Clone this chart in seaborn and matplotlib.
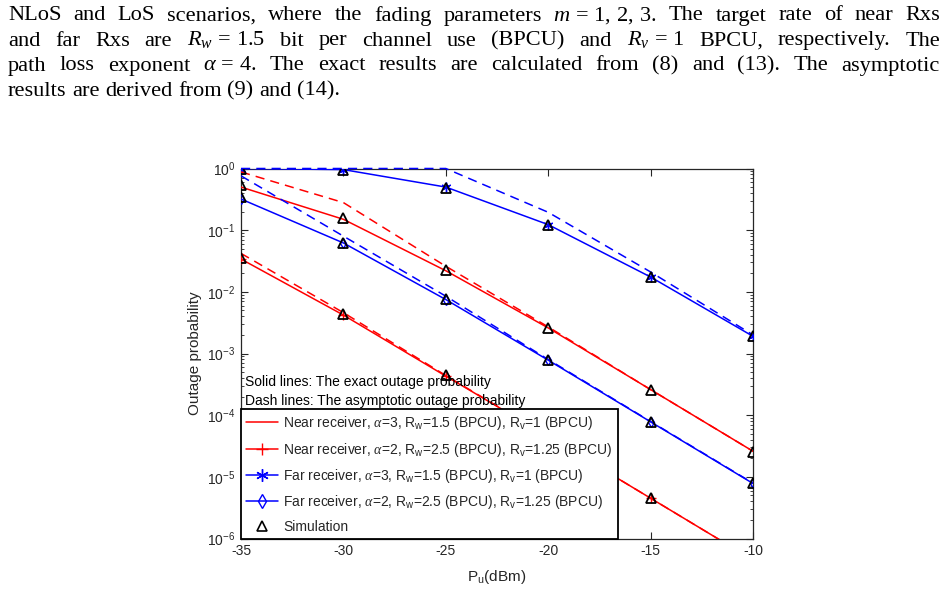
import numpy as np
import pandas as pd
import matplotlib
matplotlib.use("Agg")
import matplotlib.pyplot as plt
from matplotlib.lines import Line2D
from matplotlib.ticker import LogLocator, NullFormatter, FixedLocator
import seaborn as sns

# ---------------- data ----------------
p_u = [-35, -30, -25, -20, -15, -10]

near_a3_exact = [0.50, 0.15, 0.022, 0.0026, 2.6e-4, 2.6e-5]
near_a3_asym = [0.88, 0.28, 0.026, 0.0027, 2.6e-4, 2.6e-5]
near_a2_exact = [0.034, 0.0042, 4.3e-4, 4.5e-5, 4.5e-6, 4.5e-7]
near_a2_asym = [0.042, 0.0046, 4.4e-4, 4.5e-5, 4.5e-6, 4.5e-7]
far_a3_exact = [1.0, 0.96, 0.50, 0.123, 0.0174, 0.0019]
far_a3_asym = [1.0, 1.0, 1.0, 0.195, 0.021, 0.002]
far_a2_exact = [0.32, 0.062, 0.0075, 7.8e-4, 7.8e-5, 7.8e-6]
far_a2_asym = [0.76, 0.08, 0.0085, 8.0e-4, 7.9e-5, 7.9e-6]

sim_near_a3 = [0.55, 0.155, 0.023, 0.0026, 2.6e-4, 2.5e-5]
sim_near_a2 = [0.036, 0.0043, 4.4e-4, 4.5e-5, 4.6e-6, 4.5e-7]
sim_far_a3 = [1.0, 0.95, 0.49, 0.12, 0.0172, 0.0019]
sim_far_a2 = [0.35, 0.063, 0.0077, 7.8e-4, 7.8e-5, 7.9e-6]

x_ticks = [-35, -30, -25, -20, -15, -10]

legend_labels = [
    r"Near receiver, $\alpha$=3, R$_\mathsf{w}$=1.5 (BPCU), R$_\mathsf{v}$=1 (BPCU)",
    r"Near receiver, $\alpha$=2, R$_\mathsf{w}$=2.5 (BPCU), R$_\mathsf{v}$=1.25 (BPCU)",
    r"Far receiver, $\alpha$=3, R$_\mathsf{w}$=1.5 (BPCU), R$_\mathsf{v}$=1 (BPCU)",
    r"Far receiver, $\alpha$=2, R$_\mathsf{w}$=2.5 (BPCU), R$_\mathsf{v}$=1.25 (BPCU)",
    "Simulation",
]

caption_lines = [
    ["NLoS", "and", "LoS", "scenarios,", "where", "the", "fading", "parameters",
     r"$m\,=\,1,\,2,\,3$.", "The", "target", "rate", "of", "near", "Rxs"],
    ["and", "far", "Rxs", "are", r"$R_w\,=\,1.5$", "bit", "per", "channel", "use",
     "(BPCU)", "and", r"$R_v\,=\,1$", "BPCU,", "respectively.", "The"],
    ["path", "loss", "exponent", r"$\alpha\,=\,4$.", "The", "exact", "results", "are",
     "calculated", "from", "(8)", "and", "(13).", "The", "asymptotic"],
    ["results", "are", "derived", "from", "(9)", "and", "(14)."],
]

# ---------------- style ----------------
sns.set_style("ticks")
plt.rcParams["font.family"] = ["Liberation Sans", "DejaVu Sans"]
plt.rcParams["mathtext.fontset"] = "custom"
plt.rcParams["mathtext.rm"] = "Liberation Serif"
plt.rcParams["mathtext.it"] = "Liberation Serif:italic"
plt.rcParams["mathtext.bf"] = "Liberation Serif:bold"
plt.rcParams["mathtext.sf"] = "Liberation Sans"
plt.rcParams["axes.unicode_minus"] = False

W, H = 948, 594
fig = plt.figure(figsize=(W / 100, H / 100), dpi=100)
fig.patch.set_facecolor("white")

ax_l, ax_r, ax_t, ax_b = 241, 753, 168.5, 538.5
ax = fig.add_axes([ax_l / W, 1 - ax_b / H, (ax_r - ax_l) / W, (ax_b - ax_t) / H])
ax.set_yscale("log")

RED = (1, 0, 0)
BLUE = (0, 0, 1)
LW = 1.1
DASH = (0, (6, 4))
ASTER = (6, 2, 0)

def curve(y, color, ls, marker=None, ms=6, clip=True):
    kw = dict(x=p_u, y=y, color=color, linewidth=LW, linestyle=ls, ax=ax,
              estimator=None, sort=False, legend=False, zorder=3, clip_on=clip)
    if marker is not None:
        kw.update(marker=marker, markersize=ms, markerfacecolor="none",
                  markeredgecolor=color, markeredgewidth=1.0)
    sns.lineplot(**kw)

# exact (solid)
curve(near_a3_exact, RED, "-")
curve(near_a2_exact, RED, "-", "+", 7)
curve(far_a3_exact, BLUE, "-", ASTER, 7)
curve(far_a2_exact, BLUE, "-", "d", 5)
# asymptotic (dashed)
curve(near_a3_asym, RED, DASH)
curve(near_a2_asym, RED, DASH)
curve(far_a3_asym, BLUE, DASH, clip=False)
curve(far_a2_asym, BLUE, DASH)

# simulation triangles
for sim in (sim_near_a3, sim_near_a2, sim_far_a3, sim_far_a2):
    sns.lineplot(x=p_u, y=sim, ax=ax, estimator=None, sort=False, legend=False,
                 linestyle="none", marker="^", markersize=7.5,
                 markerfacecolor="none", markeredgecolor="black",
                 markeredgewidth=1.3, color="black", zorder=4)

ax.set_xlim(-35, -10)
ax.set_ylim(1e-6, 1)
ax.xaxis.set_major_locator(FixedLocator(x_ticks))
ax.yaxis.set_major_locator(LogLocator(base=10, numticks=10))
ax.yaxis.set_minor_locator(LogLocator(base=10, subs=np.arange(2, 10), numticks=10))
ax.yaxis.set_minor_formatter(NullFormatter())

GRAY = (0.15, 0.15, 0.15)
for s in ax.spines.values():
    s.set_color(GRAY)
    s.set_linewidth(0.9)
ax.tick_params(which="both", direction="in", top=True, right=True,
               colors=GRAY, labelcolor=GRAY, labelsize=10)
ax.tick_params(which="major", length=5, width=0.8, pad=4)
ax.tick_params(which="minor", length=2.5, width=0.6)

ax.set_xlabel(r"P$_\mathsf{u}$(dBm)", fontsize=11, color=GRAY, labelpad=7)
ax.set_ylabel("Outage probability", fontsize=11, color=GRAY, labelpad=4)

ax.text(0.008, 0.423, "Solid lines: The exact outage probability",
        transform=ax.transAxes, fontsize=10, va="center", ha="left", color="black")
ax.text(0.008, 0.372, "Dash lines: The asymptotic outage probability",
        transform=ax.transAxes, fontsize=10, va="center", ha="left", color="black")

handles = [
    Line2D([], [], color=RED, lw=LW),
    Line2D([], [], color=RED, lw=LW, marker="+", ms=9, mew=1.0),
    Line2D([], [], color=BLUE, lw=LW, marker=ASTER, ms=9, mew=1.0, mfc="none"),
    Line2D([], [], color=BLUE, lw=LW, marker="d", ms=7, mew=1.0, mfc="none"),
    Line2D([], [], color="black", lw=0, marker="^", ms=7.5, mew=1.2, mfc="none"),
]
leg = ax.legend(handles, legend_labels, loc="lower left", bbox_to_anchor=(0, 0),
                borderaxespad=0, fontsize=10, frameon=True, fancybox=False,
                framealpha=1, edgecolor="black", handlelength=2.3,
                handletextpad=0.4, labelspacing=0.6, borderpad=0.35)
leg.get_frame().set_linewidth(1.3)
leg.set_zorder(10)

# ---------------- caption paragraph ----------------
fig.canvas.draw()
renderer = fig.canvas.get_renderer()

probe = fig.text(0, 0, " ".join(caption_lines[3]), fontsize=10,
                 family="Liberation Serif")
wprobe = probe.get_window_extent(renderer).width
probe.remove()
cap_fs = 10 * 332.0 / wprobe

baselines = [20.5, 45.5, 70.5, 95.5]
X0, X1 = 8, 940
sp = fig.text(0, 0, "a a", fontsize=cap_fs, family="Liberation Serif")
sa = fig.text(0, 0, "aa", fontsize=cap_fs, family="Liberation Serif")
space_w = sp.get_window_extent(renderer).width - sa.get_window_extent(renderer).width
sp.remove()
sa.remove()

for i, (tokens, yb) in enumerate(zip(caption_lines, baselines)):
    texts = [fig.text(0, 1 - yb / H, t, fontsize=cap_fs, family="Liberation Serif",
                      va="baseline", ha="left", color="black") for t in tokens]
    widths = [t.get_window_extent(renderer).width for t in texts]
    if i < 3:
        gap = (X1 - X0 - sum(widths)) / (len(tokens) - 1)
    else:
        gap = space_w
    x = X0
    for t, w in zip(texts, widths):
        t.set_x(x / W)
        x += w + gap

fig.savefig("out.png", dpi=100, facecolor="white")
